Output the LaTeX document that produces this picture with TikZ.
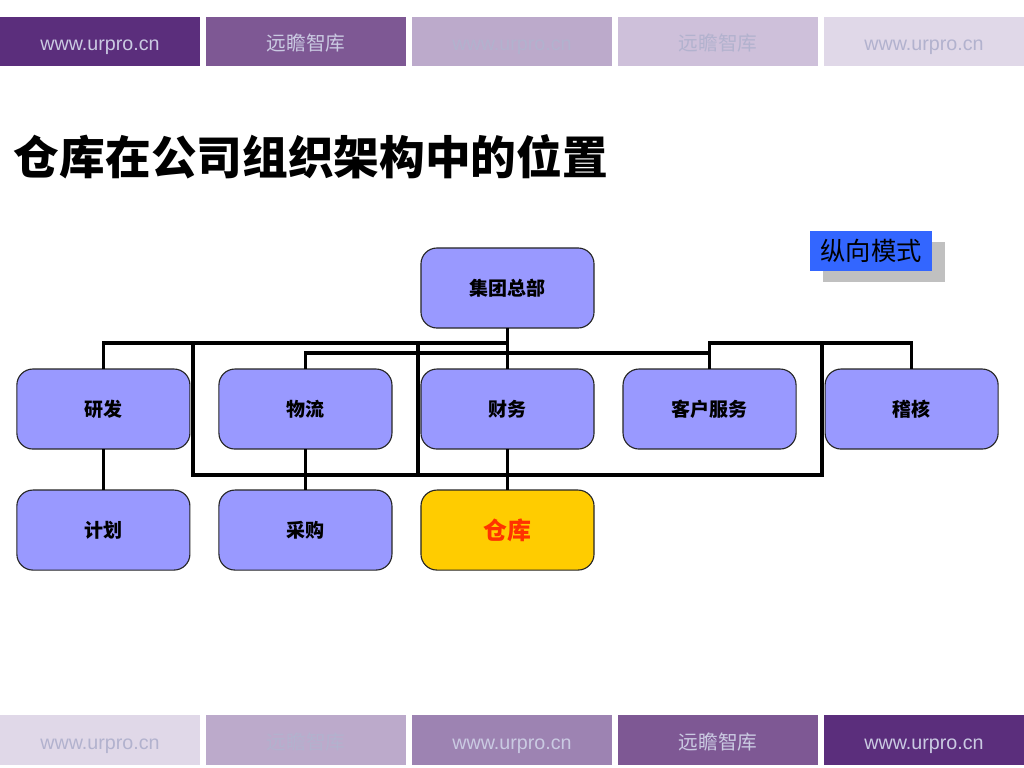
\documentclass[tikz,border=0pt]{standalone}
\usepackage{fontspec}
\setmainfont{Liberation Sans}
\newfontfamily\cjk{Noto Sans CJK SC}
\usetikzlibrary{positioning, shadows}
\definecolor{unitfill}{HTML}{9999FF}
\definecolor{whfill}{HTML}{FFCC00}
\definecolor{whtext}{HTML}{FF3300}
\definecolor{modeblue}{HTML}{3366FF}
\definecolor{shadowgray}{HTML}{C0C0C0}
\definecolor{barA}{HTML}{5B2E7C}
\definecolor{barB}{HTML}{7E5894}
\definecolor{barC}{HTML}{BCAACB}
\definecolor{barD}{HTML}{CEC0DA}
\definecolor{barE}{HTML}{E0D8E8}
\definecolor{barF}{HTML}{9D83B2}
\definecolor{txtlight}{HTML}{CACAE2}
\definecolor{txtdim}{HTML}{B2B2CE}
\newcommand\sitename{www.urpro.cn}
\newcommand\brandname{{\cjk 远瞻智库}}

\begin{document}
\begin{tikzpicture}[
      x=0.025cm, y=-0.025cm,
      node distance=1.025cm and 0.725cm,
      unit/.style={
        rectangle, draw=black!85, line width=0.8pt, rounded corners=0.4cm,
        fill=unitfill, outer sep=0pt, inner sep=0pt,
        minimum width=4.325cm, minimum height=2cm,
        font=\cjk\bfseries\fontsize{13.5}{16}\selectfont
      },
      wire/.style={line width=2.2pt},
      bar/.style={
        rectangle, inner sep=0pt, minimum width=5cm, minimum height=1.235cm,
        text height=13pt, text depth=0pt,
        font=\fontsize{14}{16}\selectfont
      }
    ]
    \useasboundingbox[fill=white] (0,0) rectangle (1024,768);

    % header and footer bars
    \foreach \i/\c/\t/\lbl in {1/barA/txtlight/\sitename, 2/barB/txtlight/\brandname,
        3/barC/txtdim/\sitename, 4/barD/txtdim/\brandname, 5/barE/txtdim/\sitename}
      \node[bar, fill=\c, text=\t] (top\i) at ({(\i-1)*206+100},41.5) {\lbl};
    \foreach \i/\c/\t/\lbl in {1/barE/txtdim/\sitename, 2/barC/txtdim/\brandname,
        3/barF/txtlight/\sitename, 4/barB/txtlight/\brandname, 5/barA/txtlight/\sitename}
      \node[bar, fill=\c, text=\t] (bot\i) at ({(\i-1)*206+100},740) {\lbl};

    \node[anchor=west, font=\cjk\bfseries\fontsize{32.5}{36}\selectfont] (title) at (9,157)
      {仓库在公司组织架构中的位置};

    \node[fill=modeblue, minimum width=3.05cm, minimum height=1cm, inner sep=0pt,
      font=\cjk\fontsize{18}{20}\selectfont,
      drop shadow={shadow xshift=0.325cm, shadow yshift=-0.275cm, fill=shadowgray, opacity=1}]
      (mode) at (871,251) {纵向模式};

    % org chart
    \node[unit] (hq) at (507.5,288) {集团总部};
    \node[unit, below=of hq] (fin) {财务};
    \node[unit, left=of fin] (logi) {物流};
    \node[unit, left=of logi] (rd) {研发};
    \node[unit, right=of fin] (cs) {客户服务};
    \node[unit, right=of cs] (audit) {稽核};
    \node[unit, below=of rd] (plan) {计划};
    \node[unit, below=of logi] (buy) {采购};
    \node[unit, below=of fin, fill=whfill, text=whtext,
      font=\cjk\bfseries\fontsize{17}{20}\selectfont] (wh) {仓库};

    \coordinate (busA) at (0,343);
    \coordinate (busB) at (0,353);
    \coordinate (busC) at (0,475);
    \coordinate (loopL) at (193,343);
    \coordinate (loopM) at (418,343);
    \coordinate (loopR) at (822,343);

    \draw[wire] (hq.south) -- (fin.north);
    \draw[wire] (hq.south |- busA) -| (rd.north);
    \draw[wire] (logi.north) |- (cs.north |- busB);
    \draw[wire] (cs.north) |- (audit.north |- busA) -- (audit.north);
    \draw[wire] (loopL) |- (loopR |- busC) -- (loopR);
    \draw[wire] (loopM) -- (loopM |- busC);

    \draw[wire] (rd.south) -- (plan.north);
    \draw[wire] (logi.south) -- (buy.north);
    \draw[wire] (fin.south) -- (wh.north);
  \end{tikzpicture}
\end{document}
